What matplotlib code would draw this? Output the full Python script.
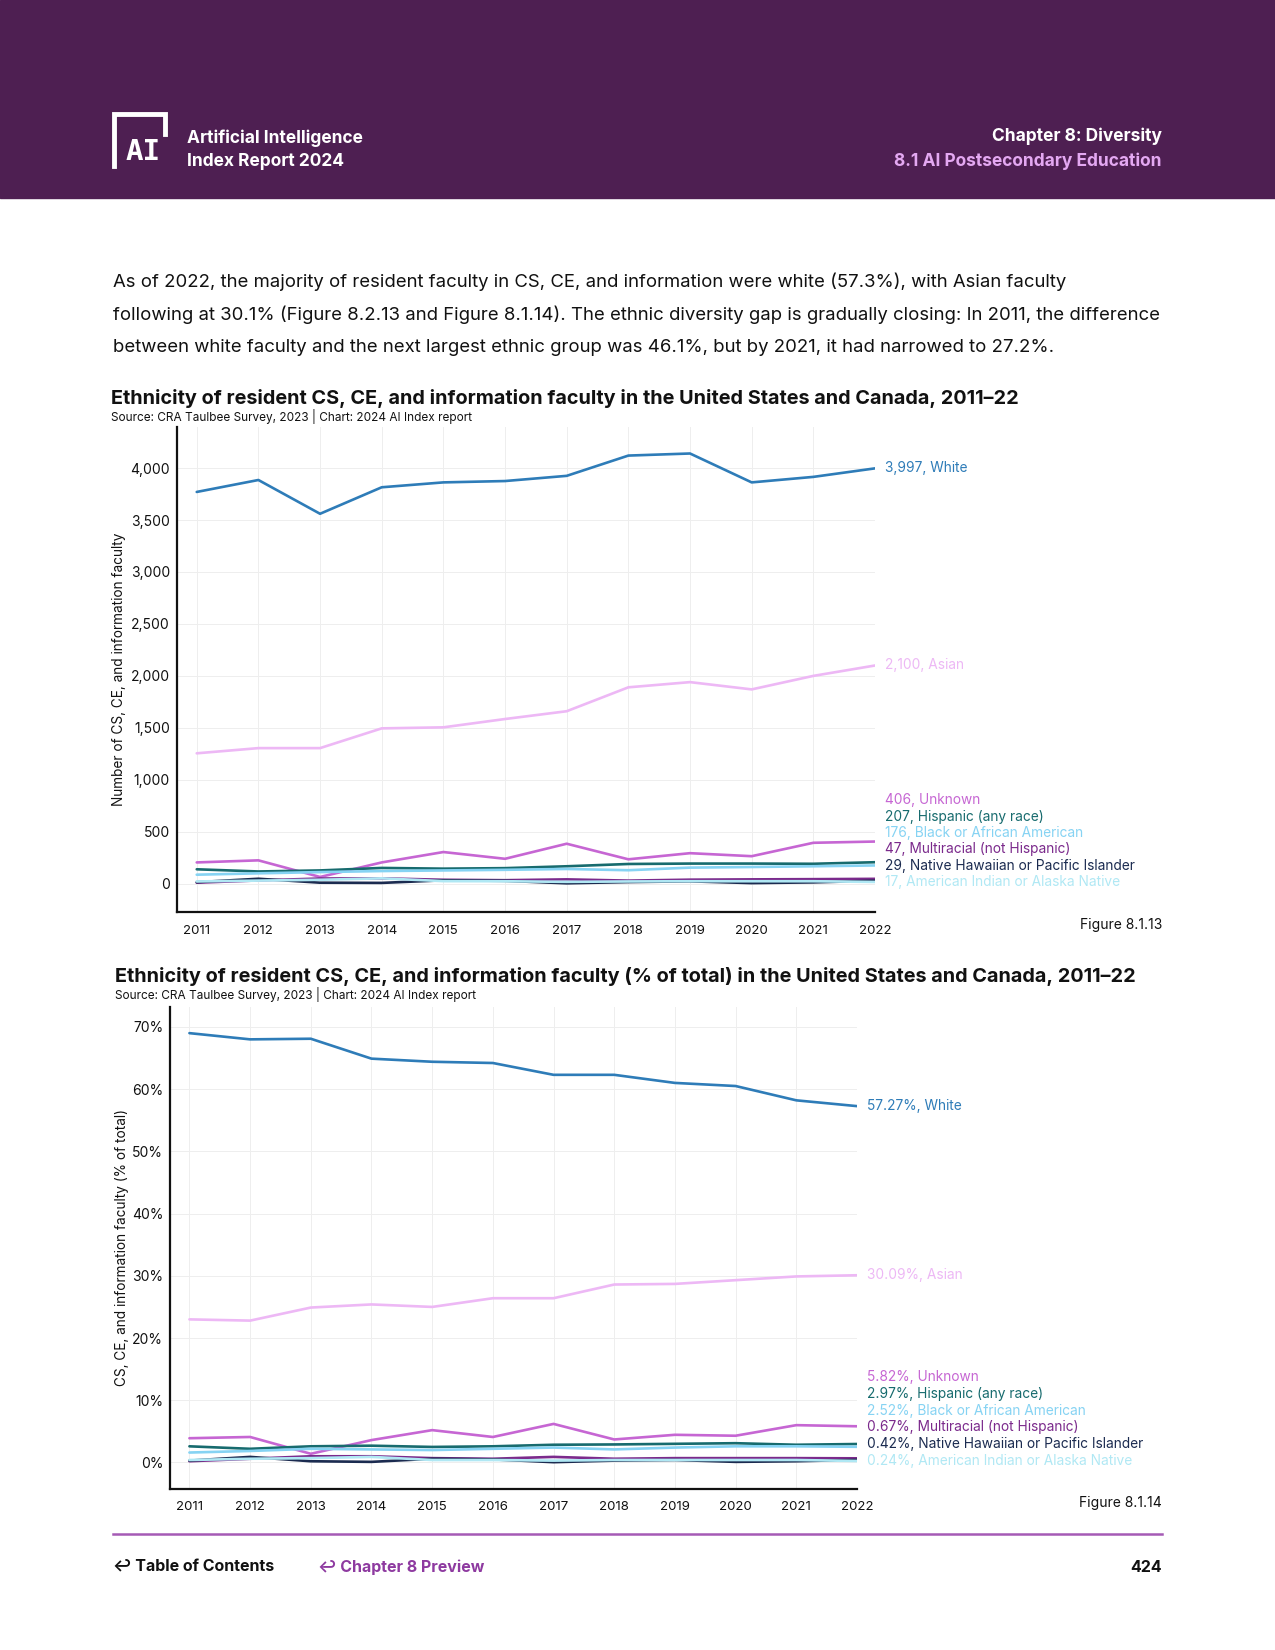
import matplotlib
matplotlib.use("Agg")
import matplotlib.pyplot as plt
from matplotlib.patches import Rectangle
from matplotlib.lines import Line2D

plt.rcParams['font.family'] = ['Inter', 'DejaVu Sans']

W, H = 1275, 1650

# data
years = [2011, 2012, 2013, 2014, 2015, 2016, 2017, 2018, 2019, 2020, 2021, 2022]
groups = ["White", "Asian", "Unknown", "Hispanic (any race)", "Black or African American",
          "Multiracial (not Hispanic)", "Native Hawaiian or Pacific Islander",
          "American Indian or Alaska Native"]
colors = ["#2E7CB8", "#EDB8F5", "#C666D3", "#176B6E", "#86D3F3",
          "#7B2A8C", "#1B2B50", "#B0E8F4"]

white_n = [3770, 3885, 3560, 3815, 3862, 3875, 3925, 4120, 4140, 3862, 3915, 3997]
asian_n = [1255, 1305, 1305, 1495, 1505, 1585, 1660, 1890, 1940, 1870, 2000, 2100]
unknown_n = [205, 225, 65, 205, 305, 240, 385, 235, 294, 265, 394, 406]
hispanic_n = [139, 118, 128, 152, 145, 150, 168, 190, 194, 194, 192, 207]
black_n = [87, 100, 112, 122, 128, 134, 142, 130, 155, 161, 168, 176]
multi_n = [10, 32, 50, 52, 38, 34, 42, 30, 39, 42, 44, 47]
nhpi_n = [15, 48, 10, 8, 33, 28, 4, 16, 23, 6, 13, 29]
aian_n = [22, 30, 38, 52, 25, 24, 18, 22, 24, 24, 24, 17]

white_p = [69.0, 68.0, 68.1, 64.9, 64.4, 64.2, 62.3, 62.3, 61.0, 60.5, 58.2, 57.27]
asian_p = [23.0, 22.8, 24.9, 25.4, 25.0, 26.4, 26.4, 28.6, 28.7, 29.3, 29.9, 30.09]
unknown_p = [3.9, 4.1, 1.4, 3.6, 5.2, 4.1, 6.2, 3.7, 4.45, 4.3, 6.0, 5.82]
hispanic_p = [2.6, 2.2, 2.6, 2.7, 2.5, 2.6, 2.85, 2.9, 3.0, 3.1, 2.85, 2.97]
black_p = [1.6, 1.85, 2.2, 2.1, 2.0, 2.2, 2.4, 2.1, 2.4, 2.6, 2.6, 2.52]
multi_p = [0.2, 0.6, 1.0, 1.0, 0.7, 0.6, 0.9, 0.6, 0.7, 0.7, 0.7, 0.67]
nhpi_p = [0.3, 0.9, 0.2, 0.1, 0.6, 0.5, 0.05, 0.3, 0.4, 0.1, 0.2, 0.42]
aian_p = [0.4, 0.6, 0.7, 0.9, 0.4, 0.4, 0.3, 0.4, 0.4, 0.4, 0.4, 0.24]

counts = [white_n, asian_n, unknown_n, hispanic_n, black_n, multi_n, nhpi_n, aian_n]
shares = [white_p, asian_p, unknown_p, hispanic_p, black_p, multi_p, nhpi_p, aian_p]


def fx(px):
    return px / W


def fy(py):
    return 1 - py / H


def ax_rect(left, top, right, bottom):
    return [fx(left), fy(bottom), (right - left) / W, (bottom - top) / H]


fig = plt.figure(figsize=(12.75, 16.5), dpi=100)

# header band
fig.patches.append(Rectangle((0, fy(198)), 1, 198 / H, transform=fig.transFigure,
                             color="#4E1F52", zorder=0))
# simple logo
fig.add_artist(Line2D([fx(114), fx(114), fx(165), fx(165)],
                      [fy(166), fy(114), fy(114), fy(134)],
                      transform=fig.transFigure, color="white", lw=3.5,
                      solid_joinstyle="miter"))
fig.text(fx(143), fy(152), "AI", color="white", fontsize=21, weight="bold",
         family="DejaVu Sans Mono", ha="center", va="center")
fig.text(fx(187), fy(138), "Artificial Intelligence", color="white", fontsize=12.5,
         weight="bold", va="center")
fig.text(fx(187), fy(161), "Index Report 2024", color="white", fontsize=12.5,
         weight="bold", va="center")
fig.text(fx(1162), fy(136), "Chapter 8: Diversity", color="white", fontsize=12.5,
         weight="bold", ha="right", va="center")
fig.text(fx(1162), fy(161), "8.1 AI Postsecondary Education", color="#E4A8F2",
         fontsize=12.5, weight="bold", ha="right", va="center")

# intro paragraph
para = ["As of 2022, the majority of resident faculty in CS, CE, and information were white (57.3%), with Asian faculty",
        "following at 30.1% (Figure 8.2.13 and Figure 8.1.14). The ethnic diversity gap is gradually closing: In 2011, the difference",
        "between white faculty and the next largest ethnic group was 46.1%, but by 2021, it had narrowed to 27.2%."]
for i, line in enumerate(para):
    fig.text(fx(113), fy(282 + 32.5 * i), line, fontsize=13.35, color="#111111", va="center")


def draw_chart(rect, data, ylim, yticks, yfmt, gap, lab_fmt, ylabel, ylab_x):
    ax = fig.add_axes(rect)
    for vals, c in zip(data, colors):
        ax.plot(years, vals, color=c, lw=1.9, solid_capstyle="round")
    ax.set_xlim(2010.68, 2022)
    ax.set_ylim(*ylim)
    ax.set_xticks(years)
    ax.set_yticks(yticks)
    ax.set_yticklabels([yfmt(v) for v in yticks])
    ax.tick_params(length=0, labelsize=10, pad=5, colors="#111111")
    ax.tick_params(axis="x", pad=9, labelsize=9.5)
    ax.grid(True, color="#EEEEEE", lw=0.7)
    ax.set_axisbelow(True)
    for s in ["top", "right"]:
        ax.spines[s].set_visible(False)
    for s in ["left", "bottom"]:
        ax.spines[s].set_linewidth(1.6)
        ax.spines[s].set_color("#111111")

    # end labels: big series at their value, small ones stacked upward
    last = [d[-1] for d in data]
    order = sorted(range(2, len(data)), key=lambda i: last[i])
    ypos = {0: last[0], 1: last[1]}
    prev = None
    for i in order:
        y = last[i] if prev is None else max(last[i], prev + gap)
        ypos[i] = y
        prev = y
    for i, g in enumerate(groups):
        ax.annotate(lab_fmt(last[i]) + ", " + g, xy=(2022, ypos[i]),
                    xytext=(7, 0), textcoords="offset points",
                    color=colors[i], fontsize=9.9, va="center", ha="left",
                    annotation_clip=False)
    b = ax.get_position()
    fig.text(fx(ylab_x), b.y0 + b.height / 2, ylabel, rotation=90, fontsize=9.8,
             ha="center", va="center", color="#111111")
    return ax


# chart 1
fig.text(fx(111), fy(398), "Ethnicity of resident CS, CE, and information faculty in the United States and Canada, 2011\u201322",
         fontsize=14.3, weight="bold", va="center", color="#111111")
fig.text(fx(111), fy(416), "Source: CRA Taulbee Survey, 2023 | Chart: 2024 AI Index report",
         fontsize=8.5, va="center", color="#111111")
draw_chart(ax_rect(177, 427, 875, 912), counts, (-272, 4395), list(range(0, 4001, 500)),
           lambda v: f"{v:,}", 157, lambda v: f"{v:,}",
           "Number of CS, CE, and information faculty", 119)
fig.text(fx(1162), fy(925), "Figure 8.1.13", fontsize=10, ha="right", va="center", color="#111111")

# chart 2
fig.text(fx(115), fy(976), "Ethnicity of resident CS, CE, and information faculty (% of total) in the United States and Canada, 2011\u201322",
         fontsize=14.3, weight="bold", va="center", color="#111111")
fig.text(fx(115), fy(995), "Source: CRA Taulbee Survey, 2023 | Chart: 2024 AI Index report",
         fontsize=8.5, va="center", color="#111111")
draw_chart(ax_rect(170, 1007, 857, 1489), shares, (-4.26, 73.2), list(range(0, 71, 10)),
           lambda v: f"{v}%", 2.7, lambda v: f"{v:.2f}%",
           "CS, CE, and information faculty (% of total)", 122)
fig.text(fx(1162), fy(1503), "Figure 8.1.14", fontsize=10, ha="right", va="center", color="#111111")

# footer
fig.add_artist(Line2D([fx(113), fx(1162)], [fy(1534), fy(1534)], transform=fig.transFigure,
                      color="#A55AB5", lw=1.8))
fig.text(fx(113), fy(1567), "\u21a9 Table of Contents", fontsize=11.5, weight="bold",
         va="center", color="#111111")
fig.text(fx(318), fy(1567), "\u21a9 Chapter 8 Preview", fontsize=11.5, weight="bold",
         va="center", color="#8E3AA0")
fig.text(fx(1162), fy(1567), "424", fontsize=11.5, weight="bold", ha="right",
         va="center", color="#111111")

fig.savefig("out.png", dpi=100)
